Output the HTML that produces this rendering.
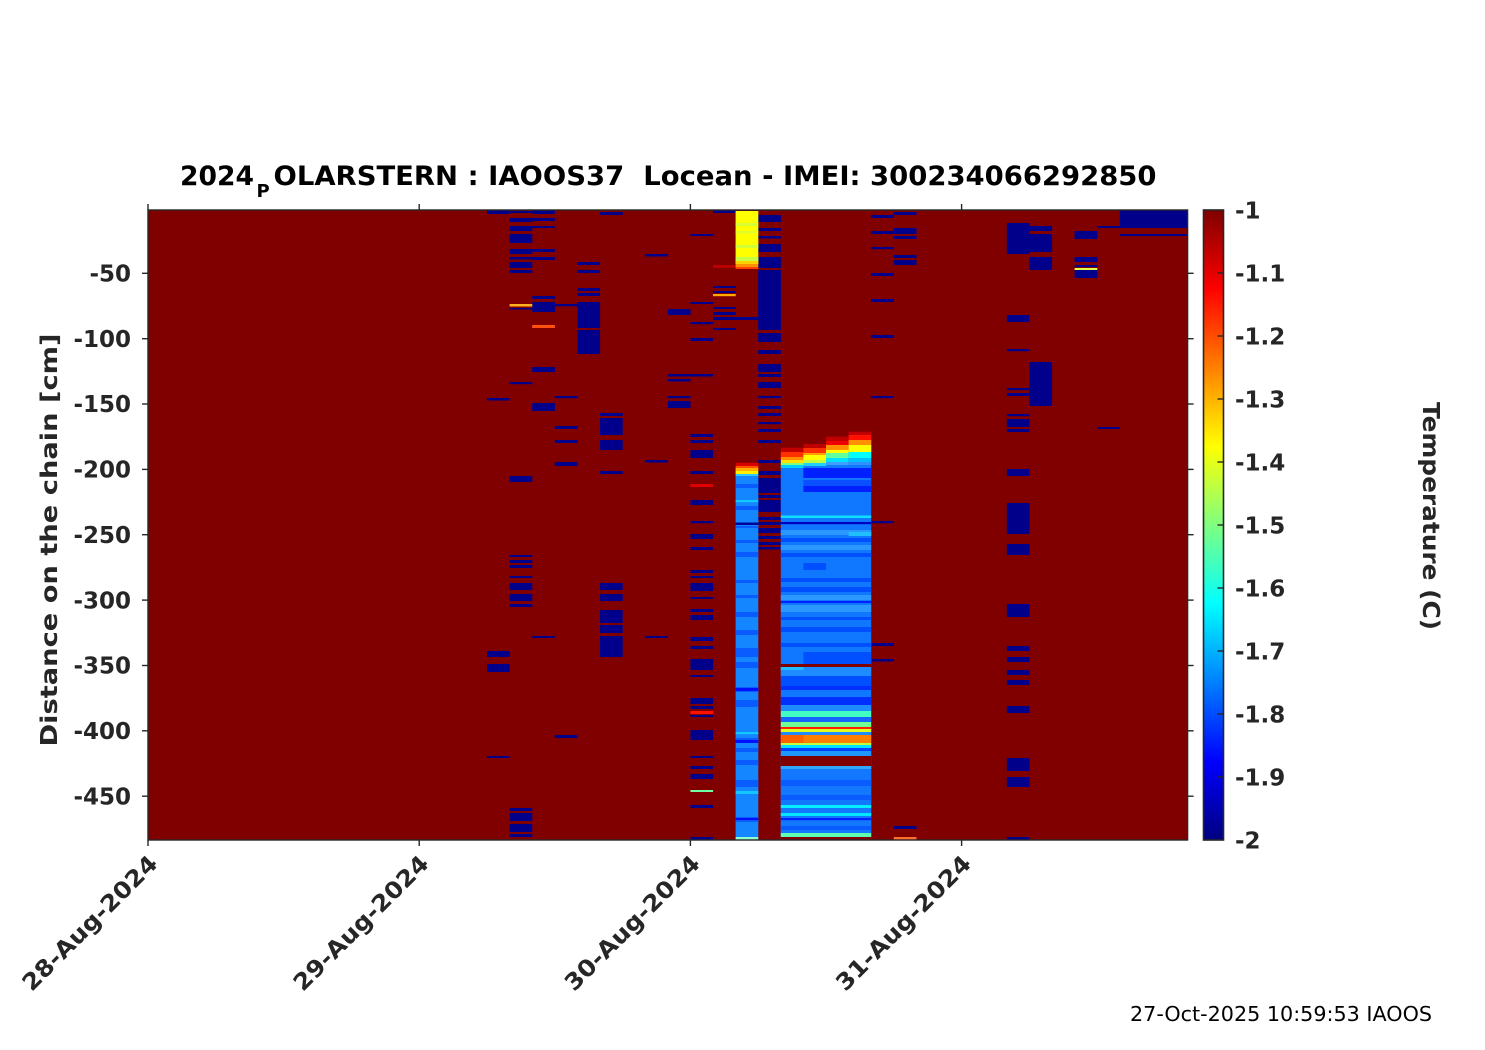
<!DOCTYPE html>
<html><head><meta charset="utf-8"><style>
html,body{margin:0;padding:0;background:#fff;}
svg{display:block;}
.t{font-family:"DejaVu Sans","Liberation Sans",sans-serif;font-weight:bold;fill:#262626;font-size:23px;}
</style></head><body>
<svg width="1485" height="1050" viewBox="0 0 1485 1050" xmlns="http://www.w3.org/2000/svg">
<defs>
<linearGradient id="jet" x1="0" y1="0" x2="0" y2="1">
<stop offset="0" stop-color="#800000"/>
<stop offset="0.125" stop-color="#ff0000"/>
<stop offset="0.375" stop-color="#ffff00"/>
<stop offset="0.625" stop-color="#00ffff"/>
<stop offset="0.875" stop-color="#0000ff"/>
<stop offset="1" stop-color="#000080"/>
</linearGradient>
</defs>
<rect width="1485" height="1050" fill="#fff"/>
<!-- plot background -->
<rect x="148" y="210" width="1039.6" height="630" fill="#800000"/>

<!-- dark blue blocks -->
<g fill="#00008b">
<!-- col15 -->
<rect x="487" y="210.5" width="22.7" height="3.5"/>
<rect x="487" y="398" width="22.7" height="2.5"/>
<rect x="487" y="651" width="22.7" height="6"/>
<rect x="487" y="664" width="22.7" height="8"/>
<rect x="487" y="756" width="22.7" height="2"/>
<!-- col16 -->
<rect x="509.6" y="211" width="22.7" height="2"/>
<rect x="509.6" y="218" width="22.7" height="4"/>
<rect x="509.6" y="226" width="22.7" height="5"/>
<rect x="509.6" y="234" width="22.7" height="9"/>
<rect x="509.6" y="249" width="22.7" height="5"/>
<rect x="509.6" y="257" width="22.7" height="2.5"/>
<rect x="509.6" y="262" width="22.7" height="6"/>
<rect x="509.6" y="270" width="22.7" height="3"/>
<rect x="509.6" y="308" width="22.7" height="1.5"/>
<rect x="509.6" y="382" width="22.7" height="2.2"/>
<rect x="509.6" y="476" width="22.7" height="6"/>
<rect x="509.6" y="555" width="22.7" height="2"/>
<rect x="509.6" y="560" width="22.7" height="3"/>
<rect x="509.6" y="565" width="22.7" height="3"/>
<rect x="509.6" y="576" width="22.7" height="2"/>
<rect x="509.6" y="583" width="22.7" height="7"/>
<rect x="509.6" y="594" width="22.7" height="7"/>
<rect x="509.6" y="604" width="22.7" height="3"/>
<rect x="509.6" y="808" width="22.7" height="3"/>
<rect x="509.6" y="813" width="22.7" height="8"/>
<rect x="509.6" y="824" width="22.7" height="8"/>
<rect x="509.6" y="834" width="22.7" height="3"/>
<!-- col17 -->
<rect x="532.2" y="210" width="22.7" height="4"/>
<rect x="532.2" y="218" width="22.7" height="3"/>
<rect x="532.2" y="226" width="22.7" height="2"/>
<rect x="532.2" y="249" width="22.7" height="3"/>
<rect x="532.2" y="257" width="22.7" height="3"/>
<rect x="532.2" y="296" width="22.7" height="3"/>
<rect x="532.2" y="302" width="22.7" height="10"/>
<rect x="532.2" y="367" width="22.7" height="5"/>
<rect x="532.2" y="403" width="22.7" height="8"/>
<rect x="532.2" y="636" width="22.7" height="2"/>
<!-- col18 -->
<rect x="554.8" y="304" width="22.7" height="2.2"/>
<rect x="554.8" y="396" width="22.7" height="2.2"/>
<rect x="554.8" y="426" width="22.7" height="3"/>
<rect x="554.8" y="440" width="22.7" height="3"/>
<rect x="554.8" y="462" width="22.7" height="4"/>
<rect x="554.8" y="735" width="22.7" height="3"/>
<!-- col19 -->
<rect x="577.4" y="262" width="22.7" height="3"/>
<rect x="577.4" y="270" width="22.7" height="3"/>
<rect x="577.4" y="288" width="22.7" height="3"/>
<rect x="577.4" y="293" width="22.7" height="3"/>
<rect x="577.4" y="302" width="22.7" height="26"/>
<rect x="577.4" y="330" width="22.7" height="24"/>
<!-- col20 -->
<rect x="600" y="212" width="22.7" height="3"/>
<rect x="600" y="413" width="22.7" height="3"/>
<rect x="600" y="418" width="22.7" height="17"/>
<rect x="600" y="440" width="22.7" height="10"/>
<rect x="600" y="471" width="22.7" height="3"/>
<rect x="600" y="583" width="22.7" height="7"/>
<rect x="600" y="594" width="22.7" height="7"/>
<rect x="600" y="610" width="22.7" height="13"/>
<rect x="600" y="625" width="22.7" height="8"/>
<rect x="600" y="636" width="22.7" height="21"/>
<!-- col22 -->
<rect x="645.2" y="254" width="22.7" height="2.5"/>
<rect x="645.2" y="460" width="22.7" height="2.5"/>
<rect x="645.2" y="636" width="22.7" height="2"/>
<!-- col23 -->
<rect x="667.8" y="309" width="22.7" height="6"/>
<rect x="667.8" y="374" width="22.7" height="2.5"/>
<rect x="667.8" y="379" width="22.7" height="2.5"/>
<rect x="667.8" y="396" width="22.7" height="2.2"/>
<rect x="667.8" y="401" width="22.7" height="7"/>
<!-- col24 -->
<rect x="690.4" y="234" width="22.7" height="2"/>
<rect x="690.4" y="302" width="22.7" height="2"/>
<rect x="690.4" y="322" width="22.7" height="2.2"/>
<rect x="690.4" y="338" width="22.7" height="3"/>
<rect x="690.4" y="374" width="22.7" height="2.5"/>
<rect x="690.4" y="434" width="22.7" height="3"/>
<rect x="690.4" y="440" width="22.7" height="3"/>
<rect x="690.4" y="450" width="22.7" height="8"/>
<rect x="690.4" y="471" width="22.7" height="3"/>
<rect x="690.4" y="500" width="22.7" height="5"/>
<rect x="690.4" y="521" width="22.7" height="2.2"/>
<rect x="690.4" y="534" width="22.7" height="5"/>
<rect x="690.4" y="547" width="22.7" height="3"/>
<rect x="690.4" y="570" width="22.7" height="3"/>
<rect x="690.4" y="576" width="22.7" height="2"/>
<rect x="690.4" y="583" width="22.7" height="8"/>
<rect x="690.4" y="597" width="22.7" height="2"/>
<rect x="690.4" y="609" width="22.7" height="3"/>
<rect x="690.4" y="615" width="22.7" height="5"/>
<rect x="690.4" y="637" width="22.7" height="4"/>
<rect x="690.4" y="646" width="22.7" height="3"/>
<rect x="690.4" y="659" width="22.7" height="11"/>
<rect x="690.4" y="675" width="22.7" height="2"/>
<rect x="690.4" y="698" width="22.7" height="6"/>
<rect x="690.4" y="706" width="22.7" height="3"/>
<rect x="690.4" y="715" width="22.7" height="2"/>
<rect x="690.4" y="730" width="22.7" height="10"/>
<rect x="690.4" y="756" width="22.7" height="2"/>
<rect x="690.4" y="766" width="22.7" height="3"/>
<rect x="690.4" y="774" width="22.7" height="5"/>
<rect x="690.4" y="805" width="22.7" height="3"/>
<rect x="690.4" y="837" width="22.7" height="2.5"/>
<!-- col25 -->
<rect x="713" y="210" width="22.7" height="3"/>
<rect x="713" y="286" width="22.7" height="2"/>
<rect x="713" y="291" width="22.7" height="2"/>
<rect x="713" y="307" width="22.7" height="2"/>
<rect x="713" y="312" width="22.7" height="3"/>
<rect x="713" y="317" width="45.3" height="3"/>
<rect x="713" y="328" width="22.7" height="2"/>
<!-- col27 -->
<rect x="758.2" y="215" width="22.7" height="7"/>
<rect x="758.2" y="228" width="22.7" height="3"/>
<rect x="758.2" y="236" width="22.7" height="2.5"/>
<rect x="758.2" y="244" width="22.7" height="8"/>
<rect x="758.2" y="257" width="22.7" height="11"/>
<rect x="758.2" y="270" width="22.7" height="60"/>
<rect x="758.2" y="333" width="22.7" height="9"/>
<rect x="758.2" y="350" width="22.7" height="4"/>
<rect x="758.2" y="364" width="22.7" height="8"/>
<rect x="758.2" y="374" width="22.7" height="3"/>
<rect x="758.2" y="382" width="22.7" height="6"/>
<rect x="758.2" y="396" width="22.7" height="2.2"/>
<rect x="758.2" y="406" width="22.7" height="3"/>
<rect x="758.2" y="413" width="22.7" height="3"/>
<rect x="758.2" y="422" width="22.7" height="2.2"/>
<rect x="758.2" y="429" width="22.7" height="3"/>
<rect x="758.2" y="440" width="22.7" height="3"/>
<rect x="758.2" y="460" width="22.7" height="3"/>
<rect x="758.2" y="471" width="22.7" height="4"/>
<rect x="758.2" y="478" width="22.7" height="15"/>
<rect x="758.2" y="495" width="22.7" height="3"/>
<rect x="758.2" y="500" width="22.7" height="12"/>
<rect x="758.2" y="517" width="22.7" height="3"/>
<rect x="758.2" y="522" width="22.7" height="3"/>
<rect x="758.2" y="528" width="22.7" height="5"/>
<rect x="758.2" y="536" width="22.7" height="3"/>
<rect x="758.2" y="542" width="22.7" height="3"/>
<rect x="758.2" y="547" width="22.7" height="2.5"/>
<!-- col32 -->
<rect x="871.2" y="215" width="22.7" height="3"/>
<rect x="871.2" y="231" width="22.7" height="3"/>
<rect x="871.2" y="247" width="22.7" height="2.2"/>
<rect x="871.2" y="273" width="22.7" height="3"/>
<rect x="871.2" y="299" width="22.7" height="3"/>
<rect x="871.2" y="335" width="22.7" height="3"/>
<rect x="871.2" y="396" width="22.7" height="2.2"/>
<rect x="871.2" y="521" width="22.7" height="2.2"/>
<rect x="871.2" y="643" width="22.7" height="3"/>
<rect x="871.2" y="659" width="22.7" height="2.5"/>
<!-- col33 -->
<rect x="893.8" y="212" width="22.7" height="3"/>
<rect x="893.8" y="228" width="22.7" height="6"/>
<rect x="893.8" y="236" width="22.7" height="3"/>
<rect x="893.8" y="255" width="22.7" height="3"/>
<rect x="893.8" y="260" width="22.7" height="5"/>
<rect x="893.8" y="826" width="22.7" height="3"/>
<!-- col38 -->
<rect x="1006.8" y="223" width="22.7" height="31"/>
<rect x="1006.8" y="315" width="22.7" height="7"/>
<rect x="1006.8" y="349" width="22.7" height="2.2"/>
<rect x="1006.8" y="388" width="22.7" height="2.2"/>
<rect x="1006.8" y="393" width="22.7" height="3"/>
<rect x="1006.8" y="414" width="22.7" height="2.2"/>
<rect x="1006.8" y="419" width="22.7" height="8"/>
<rect x="1006.8" y="429" width="22.7" height="3"/>
<rect x="1006.8" y="469" width="22.7" height="7"/>
<rect x="1006.8" y="503" width="22.7" height="31"/>
<rect x="1006.8" y="544" width="22.7" height="11"/>
<rect x="1006.8" y="604" width="22.7" height="13"/>
<rect x="1006.8" y="646" width="22.7" height="5"/>
<rect x="1006.8" y="657" width="22.7" height="5"/>
<rect x="1006.8" y="670" width="22.7" height="5"/>
<rect x="1006.8" y="680" width="22.7" height="5"/>
<rect x="1006.8" y="706" width="22.7" height="7"/>
<rect x="1006.8" y="758" width="22.7" height="13"/>
<rect x="1006.8" y="777" width="22.7" height="10"/>
<rect x="1006.8" y="837" width="22.7" height="2.5"/>
<!-- col39 -->
<rect x="1029.4" y="226" width="22.7" height="5"/>
<rect x="1029.4" y="234" width="22.7" height="18"/>
<rect x="1029.4" y="257" width="22.7" height="13"/>
<rect x="1029.4" y="362" width="22.7" height="44"/>
<!-- col41 -->
<rect x="1074.6" y="231" width="22.7" height="8"/>
<rect x="1074.6" y="257" width="22.7" height="5"/>
<rect x="1074.6" y="265" width="22.7" height="2"/>
<rect x="1074.6" y="270" width="22.7" height="8"/>
<!-- col42 -->
<rect x="1097.2" y="226" width="22.7" height="2"/>
<rect x="1097.2" y="427" width="22.7" height="2"/>
<!-- col43-45 -->
<rect x="1119.8" y="210" width="67.8" height="18"/>
<rect x="1119.8" y="234" width="67.8" height="2"/>
</g>

<!-- odd coloured lines -->
<rect x="509.6" y="304" width="22.7" height="2.5" fill="#ffb020"/>
<rect x="532.2" y="325" width="22.7" height="3" fill="#ff5010"/>
<rect x="690.4" y="484" width="22.7" height="3" fill="#e00000"/>
<rect x="690.4" y="711" width="22.7" height="3" fill="#ff1000"/>
<rect x="690.4" y="790" width="22.7" height="2" fill="#70ffa0"/>
<rect x="713" y="265" width="22.7" height="3" fill="#b80000"/>
<rect x="713" y="294" width="22.7" height="2.2" fill="#ffaa00"/>
<rect x="893.8" y="837" width="22.7" height="2.5" fill="#ff7030"/>
<rect x="1074.6" y="268" width="22.7" height="2" fill="#e0ff50"/>

<!-- col26 top yellow -->
<rect x="735.6" y="211" width="22.7" height="53" fill="#ffff00"/>
<rect x="735.6" y="223" width="22.7" height="3" fill="#d8ff30"/>
<rect x="735.6" y="231" width="22.7" height="2.5" fill="#e0ff28"/>
<rect x="735.6" y="245" width="22.7" height="3" fill="#d0ff38"/>
<rect x="735.6" y="257" width="22.7" height="4" fill="#c8ff40"/>
<rect x="735.6" y="261" width="22.7" height="3" fill="#ffd000"/>
<rect x="735.6" y="264" width="22.7" height="3" fill="#ff9000"/>
<rect x="735.6" y="267" width="22.7" height="2" fill="#ff4000"/>
<rect x="735.6" y="317" width="22.7" height="3" fill="#00008b"/>

<!-- col26 lower -->
<rect x="735.6" y="462.7" width="22.7" height="3.5" fill="#d80000"/>
<rect x="735.6" y="466" width="22.7" height="2.2" fill="#ff5000"/>
<rect x="735.6" y="468" width="22.7" height="3" fill="#ffb000"/>
<rect x="735.6" y="471" width="22.7" height="3" fill="#ffee00"/>
<rect x="735.6" y="474" width="22.7" height="2.2" fill="#30c8ff"/>
<rect x="735.6" y="476" width="22.7" height="361" fill="#1486ff"/>
<g fill="#0a5cff">
<rect x="735.6" y="484" width="22.7" height="4"/>
<rect x="735.6" y="506" width="22.7" height="4"/>
<rect x="735.6" y="526" width="22.7" height="2"/>
<rect x="735.6" y="540" width="22.7" height="3"/>
<rect x="735.6" y="552" width="22.7" height="5"/>
<rect x="735.6" y="580" width="22.7" height="3"/>
<rect x="735.6" y="595" width="22.7" height="3"/>
<rect x="735.6" y="612" width="22.7" height="5"/>
<rect x="735.6" y="630" width="22.7" height="5"/>
<rect x="735.6" y="648" width="22.7" height="9"/>
<rect x="735.6" y="662" width="22.7" height="6"/>
<rect x="735.6" y="687" width="22.7" height="5"/>
<rect x="735.6" y="700" width="22.7" height="7"/>
<rect x="735.6" y="738" width="22.7" height="4"/>
<rect x="735.6" y="748" width="22.7" height="4"/>
<rect x="735.6" y="760" width="22.7" height="5"/>
<rect x="735.6" y="780" width="22.7" height="7"/>
<rect x="735.6" y="817" width="22.7" height="5"/>
</g>
<g fill="#0010ff">
<rect x="735.6" y="688" width="22.7" height="3"/>
<rect x="735.6" y="740" width="22.7" height="3"/>
<rect x="735.6" y="818" width="22.7" height="2"/>
</g>
<rect x="735.6" y="522.5" width="22.7" height="2.5" fill="#00009a"/>
<g fill="#10c8ff">
<rect x="735.6" y="500" width="22.7" height="2.2"/>
<rect x="735.6" y="732" width="22.7" height="2.2"/>
<rect x="735.6" y="791" width="22.7" height="3"/>
</g>
<rect x="735.6" y="837" width="22.7" height="2.5" fill="#90ffd0"/>

<!-- cols 28-31 -->
<rect x="780.8" y="465" width="90.4" height="375" fill="#0f78ff"/>
<!-- tops -->
<rect x="780.8" y="447.7" width="22.7" height="4.5" fill="#c00000"/>
<rect x="780.8" y="452" width="22.7" height="5" fill="#ff3000"/>
<rect x="780.8" y="457" width="22.7" height="3" fill="#ff8c00"/>
<rect x="780.8" y="460" width="22.7" height="3" fill="#ffe000"/>
<rect x="780.8" y="463" width="22.7" height="2" fill="#80ff80"/>
<rect x="780.8" y="465" width="22.7" height="3" fill="#00d0ff"/>

<rect x="803.4" y="444" width="22.7" height="4.2" fill="#c00000"/>
<rect x="803.4" y="448" width="22.7" height="5" fill="#ff3000"/>
<rect x="803.4" y="453" width="22.7" height="2.2" fill="#ffa000"/>
<rect x="803.4" y="455" width="22.7" height="5" fill="#ffff00"/>
<rect x="803.4" y="460" width="22.7" height="3" fill="#c0ff40"/>
<rect x="803.4" y="463" width="22.7" height="3" fill="#20d0ff"/>

<rect x="826" y="436.7" width="22.7" height="4.5" fill="#c00000"/>
<rect x="826" y="441" width="22.7" height="4.2" fill="#f00000"/>
<rect x="826" y="445" width="22.7" height="5" fill="#ff9000"/>
<rect x="826" y="450" width="22.7" height="3" fill="#ffff00"/>
<rect x="826" y="453" width="22.7" height="5" fill="#60ffa0"/>
<rect x="826" y="458" width="22.7" height="4" fill="#00e0ff"/>
<rect x="826" y="462" width="22.7" height="3" fill="#40a0ff"/>

<rect x="848.6" y="431.7" width="22.7" height="3.5" fill="#c00000"/>
<rect x="848.6" y="435" width="22.7" height="5" fill="#ff1000"/>
<rect x="848.6" y="440" width="22.7" height="5" fill="#ff9000"/>
<rect x="848.6" y="445" width="22.7" height="7" fill="#ffff00"/>
<rect x="848.6" y="452" width="22.7" height="6" fill="#00ffff"/>
<rect x="848.6" y="458" width="22.7" height="4" fill="#00c0ff"/>
<rect x="848.6" y="462" width="22.7" height="3" fill="#3090ff"/>

<!-- inner blue structure -->
<rect x="803.4" y="468" width="67.8" height="10" fill="#0020ff"/>
<rect x="803.4" y="480" width="67.8" height="6" fill="#0a50ff"/>
<rect x="803.4" y="486" width="67.8" height="6" fill="#0020ff"/>
<g fill="#0050ff">
<rect x="780.8" y="538" width="90.4" height="4"/>
<rect x="780.8" y="553" width="90.4" height="4"/>
<rect x="803.4" y="563" width="22.7" height="7"/>
<rect x="780.8" y="578" width="90.4" height="4"/>
<rect x="780.8" y="587" width="90.4" height="5"/>
<rect x="780.8" y="617" width="90.4" height="3"/>
<rect x="780.8" y="627" width="90.4" height="5"/>
<rect x="780.8" y="643" width="90.4" height="4"/>
<rect x="803.4" y="652" width="67.8" height="12"/>
<rect x="780.8" y="676" width="90.4" height="10"/>
</g>
<rect x="780.8" y="601" width="90.4" height="2" fill="#0020ff"/>
<rect x="780.8" y="515.5" width="90.4" height="2.5" fill="#10e0ff"/>
<rect x="780.8" y="522" width="90.4" height="2.2" fill="#0000c0"/>
<g fill="#2a98ff">
<rect x="780.8" y="530" width="90.4" height="5"/>
<rect x="780.8" y="545" width="90.4" height="5"/>
<rect x="780.8" y="595" width="90.4" height="5"/>
<rect x="780.8" y="605" width="90.4" height="7"/>
</g>
<rect x="848.6" y="532" width="22.7" height="4" fill="#20c0ff"/>
<!-- gaps -->
<rect x="780.8" y="664" width="90.4" height="3" fill="#800000"/>
<rect x="780.8" y="756" width="90.4" height="10" fill="#800000"/>
<!-- band section -->
<rect x="780.8" y="667" width="90.4" height="9" fill="#1e8cff"/>
<rect x="780.8" y="667" width="22.7" height="3" fill="#20c0ff"/>
<rect x="780.8" y="686" width="90.4" height="4" fill="#0030ff"/>
<rect x="780.8" y="697" width="90.4" height="3" fill="#0030ff"/>
<rect x="780.8" y="700" width="90.4" height="5" fill="#0030ff"/>
<rect x="780.8" y="705" width="90.4" height="6" fill="#1e8cff"/>
<rect x="780.8" y="711" width="90.4" height="6" fill="#40ffc0"/>
<rect x="780.8" y="717" width="90.4" height="5" fill="#1464ff"/>
<rect x="780.8" y="722" width="90.4" height="5" fill="#70ff90"/>
<rect x="780.8" y="727" width="90.4" height="2.2" fill="#ff2000"/>
<rect x="780.8" y="729" width="90.4" height="3" fill="#e0ff20"/>
<rect x="780.8" y="732" width="90.4" height="3" fill="#1e8cff"/>
<rect x="780.8" y="735" width="90.4" height="8" fill="#ff8000"/>
<rect x="780.8" y="735" width="22.7" height="8" fill="#ff6000"/>
<rect x="780.8" y="743" width="90.4" height="2.2" fill="#c0ff40"/>
<rect x="780.8" y="745" width="90.4" height="3" fill="#00e0ff"/>
<rect x="780.8" y="748" width="90.4" height="3" fill="#0040ff"/>
<rect x="780.8" y="751" width="90.4" height="5" fill="#1e9aff"/>
<!-- lower section -->
<rect x="780.8" y="766" width="90.4" height="71" fill="#1478ff"/>
<rect x="780.8" y="766" width="90.4" height="3" fill="#30a8ff"/>
<rect x="780.8" y="780" width="90.4" height="6" fill="#0a5cff"/>
<rect x="780.8" y="795" width="90.4" height="5" fill="#0a5cff"/>
<rect x="780.8" y="805" width="90.4" height="3" fill="#00f0ff"/>
<rect x="780.8" y="813" width="90.4" height="3" fill="#00e8ff"/>
<rect x="780.8" y="818" width="90.4" height="2.2" fill="#0020ff"/>
<rect x="780.8" y="826" width="90.4" height="4" fill="#0a5cff"/>
<rect x="780.8" y="833" width="90.4" height="4" fill="#60ffb0"/>
<rect x="780.8" y="837" width="90.4" height="3" fill="#800000"/>

<!-- axes border -->
<rect x="148" y="210" width="1039.6" height="630" fill="none" stroke="#262626" stroke-width="1.4"/>
<g stroke="#262626" stroke-width="1.4">
<!-- x ticks bottom/top -->
<line x1="148" y1="840" x2="148" y2="846"/>
<line x1="419.2" y1="840" x2="419.2" y2="846"/>
<line x1="690.4" y1="840" x2="690.4" y2="846"/>
<line x1="961.6" y1="840" x2="961.6" y2="846"/>
<line x1="148" y1="204" x2="148" y2="210"/>
<line x1="419.2" y1="204" x2="419.2" y2="210"/>
<line x1="690.4" y1="204" x2="690.4" y2="210"/>
<line x1="961.6" y1="204" x2="961.6" y2="210"/>
<!-- y ticks -->
<line x1="142" y1="273.3" x2="148" y2="273.3"/>
<line x1="142" y1="338.7" x2="148" y2="338.7"/>
<line x1="142" y1="404" x2="148" y2="404"/>
<line x1="142" y1="469.4" x2="148" y2="469.4"/>
<line x1="142" y1="534.7" x2="148" y2="534.7"/>
<line x1="142" y1="600.1" x2="148" y2="600.1"/>
<line x1="142" y1="665.5" x2="148" y2="665.5"/>
<line x1="142" y1="730.8" x2="148" y2="730.8"/>
<line x1="142" y1="796.2" x2="148" y2="796.2"/>
<line x1="1187.6" y1="273.3" x2="1193.6" y2="273.3"/>
<line x1="1187.6" y1="338.7" x2="1193.6" y2="338.7"/>
<line x1="1187.6" y1="404" x2="1193.6" y2="404"/>
<line x1="1187.6" y1="469.4" x2="1193.6" y2="469.4"/>
<line x1="1187.6" y1="534.7" x2="1193.6" y2="534.7"/>
<line x1="1187.6" y1="600.1" x2="1193.6" y2="600.1"/>
<line x1="1187.6" y1="665.5" x2="1193.6" y2="665.5"/>
<line x1="1187.6" y1="730.8" x2="1193.6" y2="730.8"/>
<line x1="1187.6" y1="796.2" x2="1193.6" y2="796.2"/>
</g>

<!-- y tick labels -->
<g class="t" text-anchor="end">
<text x="131" y="281.5">-50</text>
<text x="131" y="346.9">-100</text>
<text x="131" y="412.2">-150</text>
<text x="131" y="477.6">-200</text>
<text x="131" y="542.9">-250</text>
<text x="131" y="608.3">-300</text>
<text x="131" y="673.7">-350</text>
<text x="131" y="739">-400</text>
<text x="131" y="804.4">-450</text>
</g>

<!-- x tick labels -->
<g class="t" text-anchor="end" font-size="22">
<text transform="translate(159 865) rotate(-45)" textLength="180" lengthAdjust="spacingAndGlyphs">28-Aug-2024</text>
<text transform="translate(430.2 865) rotate(-45)" textLength="180" lengthAdjust="spacingAndGlyphs">29-Aug-2024</text>
<text transform="translate(701.4 865) rotate(-45)" textLength="180" lengthAdjust="spacingAndGlyphs">30-Aug-2024</text>
<text transform="translate(972.6 865) rotate(-45)" textLength="180" lengthAdjust="spacingAndGlyphs">31-Aug-2024</text>
</g>

<!-- y label -->
<text class="t" transform="translate(57 540) rotate(-90)" text-anchor="middle" font-size="24" textLength="413" lengthAdjust="spacingAndGlyphs">Distance on the chain [cm]</text>

<!-- title -->
<g font-family="'DejaVu Sans','Liberation Sans',sans-serif" font-weight="bold" fill="#000">
<text x="180" y="185" font-size="27" textLength="74" lengthAdjust="spacingAndGlyphs">2024</text>
<text x="256.5" y="197" font-size="18">P</text>
<text x="273.5" y="185" font-size="27" textLength="883" lengthAdjust="spacingAndGlyphs" style="white-space:pre">OLARSTERN : IAOOS37  Locean - IMEI: 300234066292850</text>
</g>

<!-- colorbar -->
<rect x="1203.5" y="210" width="20" height="630" fill="url(#jet)" stroke="#262626" stroke-width="1.6"/>
<g stroke="#262626" stroke-width="1.4">
<line x1="1217.5" y1="273" x2="1223.5" y2="273"/>
<line x1="1217.5" y1="336" x2="1223.5" y2="336"/>
<line x1="1217.5" y1="399" x2="1223.5" y2="399"/>
<line x1="1217.5" y1="462" x2="1223.5" y2="462"/>
<line x1="1217.5" y1="525" x2="1223.5" y2="525"/>
<line x1="1217.5" y1="588" x2="1223.5" y2="588"/>
<line x1="1217.5" y1="651" x2="1223.5" y2="651"/>
<line x1="1217.5" y1="714" x2="1223.5" y2="714"/>
<line x1="1217.5" y1="777" x2="1223.5" y2="777"/>
</g>
<g class="t">
<text x="1235" y="218.5">-1</text>
<text x="1235" y="281.5">-1.1</text>
<text x="1235" y="344.5">-1.2</text>
<text x="1235" y="407.5">-1.3</text>
<text x="1235" y="470.5">-1.4</text>
<text x="1235" y="533.5">-1.5</text>
<text x="1235" y="596.5">-1.6</text>
<text x="1235" y="659.5">-1.7</text>
<text x="1235" y="722.5">-1.8</text>
<text x="1235" y="785.5">-1.9</text>
<text x="1235" y="848.5">-2</text>
</g>
<text class="t" transform="translate(1423 516) rotate(90)" text-anchor="middle" font-size="23" textLength="228" lengthAdjust="spacingAndGlyphs">Temperature (C)</text>

<!-- footer -->
<text x="1130" y="1021" font-family="'DejaVu Sans','Liberation Sans',sans-serif" font-size="20" fill="#000" textLength="302" lengthAdjust="spacingAndGlyphs">27-Oct-2025 10:59:53 IAOOS</text>
</svg>
</body></html>
